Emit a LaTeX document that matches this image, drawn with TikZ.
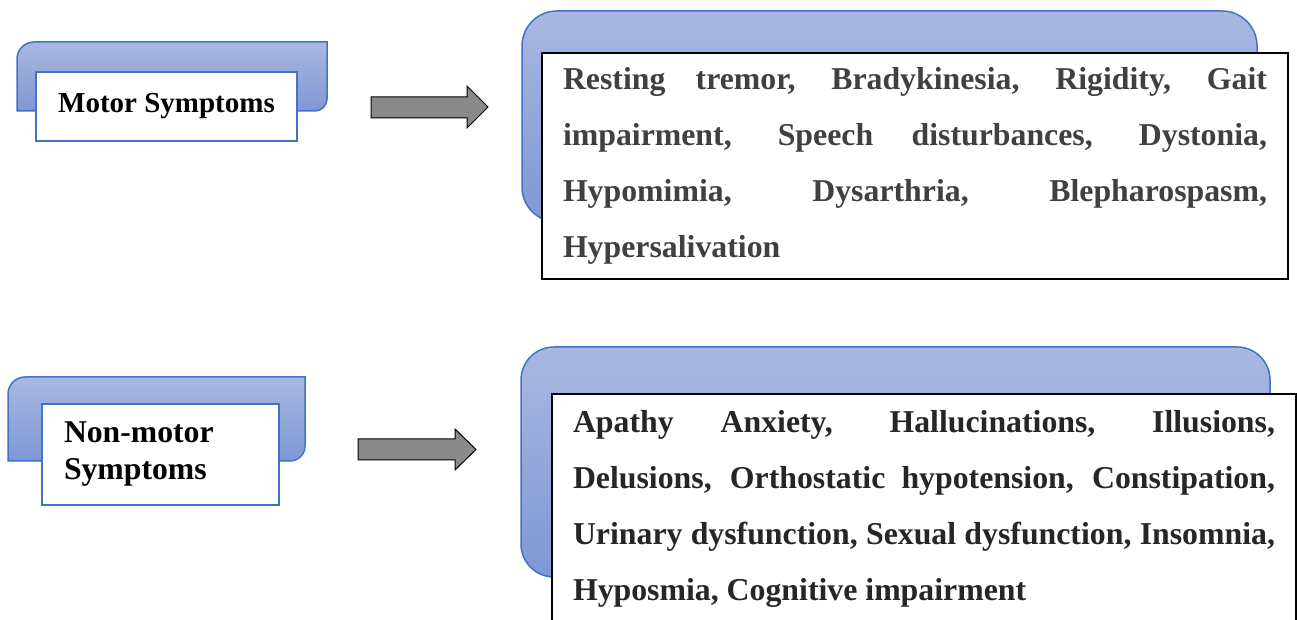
\documentclass[tikz,border=0pt]{standalone}
\usepackage{fontspec}
\setmainfont{Liberation Serif}
\usepackage{tikz}
\definecolor{tabtop}{HTML}{A9B8E1}
\definecolor{tabbottom}{HTML}{7F97D4}
\definecolor{tabline}{HTML}{4472C4}
\definecolor{arrowgray}{HTML}{8A8A8A}
\definecolor{textgray}{HTML}{404040}
\definecolor{textdark}{HTML}{262626}
\tikzset{
  tab/.style={draw=tabline, line width=1.5pt, top color=tabtop, bottom color=tabbottom},
  labelbox/.style={draw=tabline, line width=2pt, fill=white, inner sep=0pt},
  listbox/.style={draw=black, line width=2pt, fill=white, anchor=north west,
    inner xsep=21pt, inner ysep=0pt, align=justify,
    font=\fontsize{31.8}{56}\selectfont\bfseries},
  blockarrow/.style={draw=black, line width=1pt, fill=arrowgray}
}

\begin{document}
\begin{tikzpicture}[x=1pt, y=1pt]
      \useasboundingbox (0,0) rectangle (1297,620);
      \clip (0,0) rectangle (1297,620);
      \fill[white] (0,0) rectangle (1297,620);
      \draw[tab] (17,509) -- (17,561) arc[start angle=180, end angle=90, radius=17pt]
        -- (327,578) -- (327,521) arc[start angle=0, end angle=-90, radius=12pt] -- cycle;
      \draw[tab] (8,159) -- (8,226) arc[start angle=180, end angle=90, radius=17pt]
        -- (305,243) -- (305,174) arc[start angle=0, end angle=-90, radius=15pt] -- cycle;
      \draw[tab, rounded corners=35pt] (522,398) rectangle (1257,609);
      \draw[tab, rounded corners=33pt] (521,43) rectangle (1270,273);
      \node[labelbox, minimum width=261pt, minimum height=69pt,
        font=\fontsize{29}{35}\selectfont\bfseries] (motor) at (166.5,513.5) {Motor Symptoms};
      \node[labelbox, anchor=north west, minimum width=237pt, minimum height=101pt,
        inner xsep=22pt, text width=193pt, align=left,
        font=\fontsize{31.7}{37}\selectfont\bfseries] (nonmotor) at (41,217) {Non-motor\\Symptoms};
      \node[listbox, text width=704pt, minimum height=226pt, text=textgray] (motorlist) at (541,568)
        {Resting tremor, Bradykinesia, Rigidity, Gait\linebreak
         impairment, Speech disturbances, Dystonia,\linebreak
         Hypomimia, Dysarthria, Blepharospasm,\linebreak
         Hypersalivation};
      \node[listbox, text width=702pt, minimum height=229pt, text=textdark] (nonmotorlist) at (551,227)
        {Apathy Anxiety, Hallucinations, Illusions,\linebreak
         Delusions, Orthostatic hypotension, Constipation,\linebreak
         Urinary dysfunction, Sexual dysfunction, Insomnia,\linebreak
         Hyposmia, Cognitive impairment};
      \draw[blockarrow] (371,502) -- (467,502) -- (467,492) -- (488,513)
        -- (467,534) -- (467,523) -- (371,523) -- cycle;
      \draw[blockarrow] (358,160) -- (455,160) -- (455,150) -- (476,170.5)
        -- (455,191) -- (455,181) -- (358,181) -- cycle;
  \end{tikzpicture}
\end{document}
